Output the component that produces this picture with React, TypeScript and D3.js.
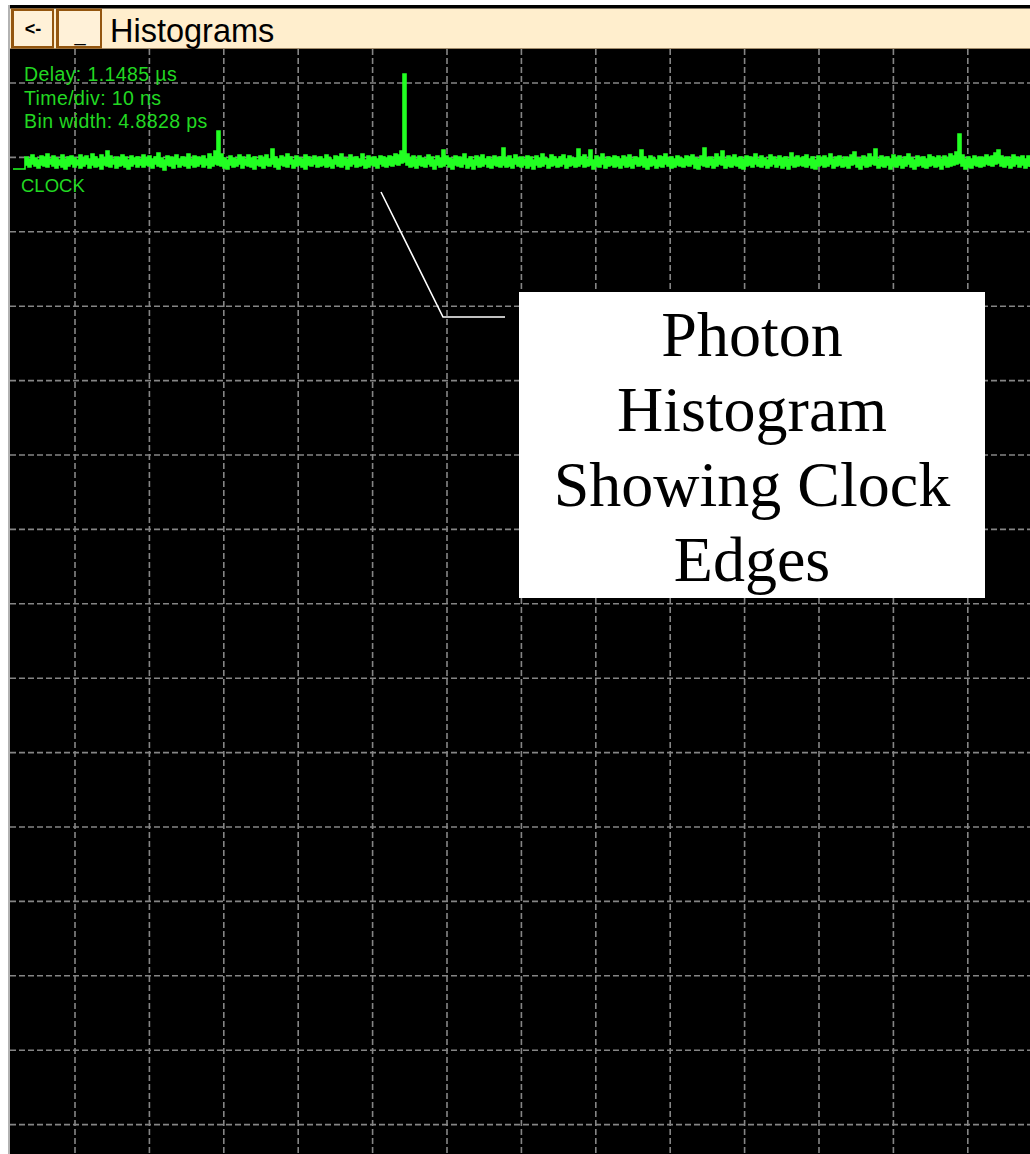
import React from "react";
import * as d3 from "d3";

const W = 1030;
const H = 1154;

// Info labels
const infoLines = ["Delay: 1.1485 µs", "Time/div: 10 ns", "Bin width: 4.8828 ps"];
const channelLabel = "CLOCK";
const windowTitle = "Histograms";
const calloutLines = ["Photon", "Histogram", "Showing Clock", "Edges"];

// Histogram counts per display column: upper and lower envelope
const leadIn = [12, 12, 12];
const countsHigh = [
  12, 24, 22, 26, 23, 21, 25, 24, 27, 22, 25, 23, 21, 26, 22, 24, 25, 23, 21, 26,
  23, 25, 22, 27, 24, 22, 26, 23, 30, 25, 22, 24, 23, 26, 24, 21, 25, 23, 24, 22,
  26, 23, 25, 22, 24, 28, 23, 21, 25, 24, 23, 26, 22, 24, 23, 27, 22, 25, 24, 23,
  25, 22, 27, 24, 30, 50, 27, 23, 21, 25, 23, 22, 26, 24, 22, 26, 23, 24, 21, 25,
  23, 26, 22, 32, 24, 22, 25, 23, 27, 24, 21, 25, 23, 22, 26, 24, 22, 25, 23, 24,
  22, 26, 23, 21, 25, 24, 27, 23, 22, 26, 23, 24, 22, 27, 21, 25, 23, 24, 22, 25,
  24, 23, 25, 24, 27, 26, 30, 107, 27, 23, 25, 22, 25, 23, 22, 26, 24, 21, 25, 23,
  31, 25, 23, 22, 25, 24, 23, 27, 22, 24, 21, 25, 23, 26, 22, 24, 22, 25, 23, 24,
  33, 23, 25, 22, 26, 23, 24, 22, 25, 24, 21, 25, 23, 27, 23, 22, 26, 24, 22, 24,
  26, 22, 25, 23, 23, 32, 24, 26, 22, 31, 21, 25, 23, 27, 22, 24, 23, 25, 24, 22,
  25, 23, 26, 22, 24, 23, 31, 24, 22, 25, 23, 21, 25, 24, 27, 23, 24, 22, 25, 23,
  22, 25, 24, 26, 23, 22, 25, 33, 23, 24, 22, 27, 24, 30, 22, 25, 23, 26, 23, 24,
  22, 25, 24, 23, 27, 22, 25, 23, 21, 26, 24, 22, 25, 23, 24, 22, 28, 23, 25, 23,
  24, 26, 22, 24, 21, 25, 23, 25, 23, 27, 22, 24, 25, 22, 24, 23, 26, 29, 23, 22,
  25, 23, 27, 24, 32, 22, 25, 23, 24, 22, 26, 23, 25, 22, 24, 27, 23, 21, 25, 23,
  24, 22, 26, 24, 23, 25, 22, 25, 23, 27, 25, 29, 47, 26, 22, 24, 22, 25, 23, 24,
  23, 26, 24, 25, 28, 31, 25, 23, 24, 22, 26, 24, 23, 25, 22, 25, 23,
];
const countsLow = [
  12, 16, 14, 17, 15, 13, 16, 15, 14, 17, 15, 13, 16, 14, 12, 15, 17, 14, 16, 13,
  15, 17, 13, 16, 14, 15, 12, 16, 15, 14, 17, 13, 15, 16, 14, 12, 15, 17, 14, 16,
  14, 16, 15, 13, 17, 15, 14, 11, 16, 15, 13, 17, 14, 16, 15, 13, 16, 14, 15, 17,
  14, 16, 13, 15, 17, 16, 15, 13, 12, 16, 14, 15, 17, 13, 16, 15, 14, 12, 16, 15,
  13, 16, 15, 17, 14, 12, 16, 15, 14, 17, 13, 15, 16, 14, 12, 16, 15, 17, 14, 15,
  16, 14, 15, 13, 17, 15, 14, 16, 12, 15, 17, 14, 15, 16, 13, 14, 16, 15, 13, 17,
  15, 14, 16, 15, 17, 16, 18, 19, 16, 14, 15, 13, 16, 15, 14, 17, 15, 12, 16, 14,
  15, 17, 14, 12, 16, 15, 14, 17, 13, 15, 12, 16, 14, 15, 17, 14, 13, 16, 15, 14,
  16, 14, 15, 13, 17, 15, 14, 16, 13, 15, 12, 16, 14, 15, 17, 13, 15, 16, 14, 15,
  17, 13, 15, 16, 14, 15, 17, 14, 15, 16, 12, 15, 14, 17, 13, 15, 16, 14, 15, 13,
  16, 14, 15, 13, 17, 15, 16, 14, 12, 15, 16, 13, 15, 14, 17, 15, 13, 14, 16, 15,
  14, 16, 15, 17, 13, 12, 16, 15, 14, 16, 13, 15, 17, 16, 13, 15, 14, 16, 15, 13,
  12, 15, 16, 14, 17, 15, 14, 16, 13, 15, 17, 14, 16, 13, 15, 12, 16, 14, 15, 16,
  15, 14, 16, 13, 12, 15, 16, 14, 15, 17, 13, 15, 16, 14, 15, 13, 16, 17, 14, 12,
  16, 14, 15, 17, 16, 13, 15, 14, 16, 12, 15, 14, 16, 13, 15, 17, 14, 12, 15, 16,
  14, 13, 15, 16, 14, 15, 12, 16, 14, 15, 16, 17, 18, 15, 12, 14, 13, 16, 15, 14,
  15, 17, 16, 15, 17, 18, 15, 14, 16, 13, 15, 17, 14, 16, 13, 15, 14,
];

// Grid divisions
const vDivs = d3.range(-1, 14);
const hDivs = d3.range(-1, 15);

export default function App() {
  const high = [...leadIn, ...countsHigh];
  const low = [...leadIn, ...countsLow];
  const rows = high.map((h, i) => ({ i, h, l: Math.min(low[i], h) }));
  const plotLeft = 10;
  const plotTop = 49;

  const x = d3.scaleLinear().domain([0, rows.length - 1]).range([13, 13 + 3 * (rows.length - 1)]);
  const y = d3.scaleLinear().domain([0, 120]).range([181, 61]);

  const gx = d3.scaleLinear().domain([0, 1]).range([75, 149.4]);
  const gy = d3.scaleLinear().domain([0, 1]).range([83, 157.4]);

  const area = d3
    .area<{ i: number; h: number; l: number }>()
    .x((d) => x(d.i))
    .y0((d) => y(d.l))
    .y1((d) => y(d.h))
    .curve(d3.curveStepAfter);

  const green = "#22ff22";
  const textGreen = "#22d822";
  const gridColor = "#858585";
  const brown = "#94560f";

  return (
    <svg
      width={W}
      height={H}
      style={{ position: "absolute", left: 0, top: 0, background: "#ffffff" }}
    >
      <rect x={0} y={0} width={W} height={H} fill="#ffffff" />
      {/* plot area */}
      <rect x={plotLeft} y={plotTop} width={W - plotLeft} height={H - plotTop} fill="#000000" />
      <line x1={9} y1={5} x2={9} y2={H} stroke="#9a9a9a" strokeWidth={1.5} />
      {/* grid */}
      <g stroke={gridColor} strokeWidth={1.6} strokeDasharray="6,3">
        {vDivs.map((k) => {
          const gxv = gx(k);
          if (gxv < plotLeft + 2 || gxv > W) return null;
          return <line key={"v" + k} x1={gxv} y1={plotTop} x2={gxv} y2={H} />;
        })}
        {hDivs.map((k) => {
          const gyv = gy(k);
          if (gyv < plotTop + 2 || gyv > H) return null;
          return <line key={"h" + k} x1={plotLeft} y1={gyv} x2={W} y2={gyv} />;
        })}
      </g>
      {/* title bar */}
      <rect x={10} y={5} width={W - 10} height={4} fill="#000000" />
      <rect x={10} y={8.5} width={W - 10} height={40.5} fill="#ffeecd" />
      <line x1={10} y1={48.5} x2={W} y2={48.5} stroke="#a08a6a" strokeWidth={1} />
      {/* buttons */}
      <rect x={11} y={8.5} width={43} height={40} fill={brown} />
      <rect x={14} y={11} width={38} height={35} fill="#fff1d8" />
      <text x={33} y={35} fontFamily="Liberation Sans, Arial, sans-serif" fontSize={18} fontWeight="bold" textAnchor="middle" fill="#000">
        {"<-"}
      </text>
      <rect x={56} y={8.5} width={46} height={40} fill={brown} />
      <rect x={59} y={11} width={41} height={35} fill="#fff1d8" />
      <text x={80} y={41} fontFamily="Liberation Sans, Arial, sans-serif" fontSize={20} textAnchor="middle" fill="#000">
        _
      </text>
      <text x={110} y={42} fontFamily="Liberation Sans, Arial, sans-serif" fontSize={32.5} fill="#000">
        {windowTitle}
      </text>
      {/* info text */}
      <g fontFamily="Liberation Sans, Arial, sans-serif" fill={textGreen}>
        {infoLines.map((t, i) => (
          <text key={t} x={24} y={81 + i * 23.5} fontSize={19.5} letterSpacing={0.4}>
            {t}
          </text>
        ))}
        <text x={21} y={192} fontSize={18.5}>
          {channelLabel}
        </text>
      </g>
      {/* trace */}
      <path d={area(rows) || ""} fill={green} stroke={green} strokeWidth={1.6} strokeLinejoin="miter" />
      {/* callout */}
      <polyline points="381,192 443,317 505,317" fill="none" stroke="#ffffff" strokeWidth={1.6} />
      <rect x={519} y={292} width={466} height={306} fill="#ffffff" />
      <g fontFamily="Liberation Serif, Times New Roman, serif" fontSize={64} fill="#000" textAnchor="middle">
        {calloutLines.map((t, i) => (
          <text key={t} x={752} y={356 + i * 75}>
            {t}
          </text>
        ))}
      </g>
    </svg>
  );
}
